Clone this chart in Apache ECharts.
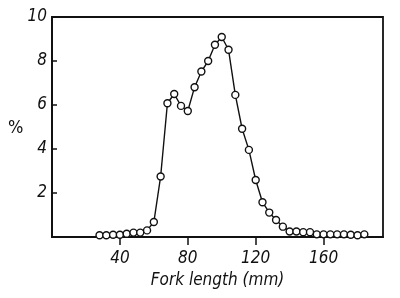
<!DOCTYPE html>
<html><head><meta charset="utf-8">
<script src="https://cdn.jsdelivr.net/npm/echarts@6/dist/echarts.min.js"></script>
<style>html,body{margin:0;padding:0;background:#fff}#c{width:400px;height:298px}</style>
</head><body><div id="c"></div>
<script>
const forkLength = [28,32,36,40,44,48,52,56,60,64,68,72,76,80,84,88,92,96,100,104,108,112,116,120,124,128,132,136,140,144,148,152,156,160,164,168,172,176,180,184];
const percent = [0.08,0.08,0.1,0.1,0.15,0.2,0.2,0.3,0.68,2.75,6.08,6.5,5.96,5.73,6.81,7.52,8.0,8.74,9.09,8.51,6.46,4.92,3.96,2.59,1.58,1.11,0.77,0.47,0.25,0.25,0.22,0.22,0.12,0.12,0.12,0.12,0.12,0.1,0.08,0.12];
const xTicks = [40,80,120,160];
const yTicks = [2,4,6,8,10];
const xTitle = 'Fork length (mm)';
const yTitle = '%';

const FONT = "'Liberation Sans Narrow','DejaVu Sans Condensed',sans-serif";
const chart = echarts.init(document.getElementById('c'), null, {renderer:'canvas'});
chart.setOption({
  animation:false,
  backgroundColor:'#fff',
  grid:{left:52,right:17,top:17,bottom:61,show:true,borderColor:'#111',borderWidth:1.8,backgroundColor:'transparent'},
  xAxis:{type:'value',min:0,max:195,
    axisLine:{show:true,lineStyle:{color:'#111',width:2}},
    axisTick:{show:true,inside:false,length:8,customValues:xTicks,lineStyle:{color:'#111',width:1.5}},
    axisLabel:{customValues:xTicks,color:'#111',fontSize:17,fontStyle:'italic',fontFamily:FONT,margin:13},
    splitLine:{show:false},
    name:xTitle,nameLocation:'middle',nameGap:35,
    nameTextStyle:{color:'#111',fontSize:17,fontStyle:'italic',fontFamily:FONT}
  },
  yAxis:{type:'value',min:0,max:10,
    axisLine:{show:true,lineStyle:{color:'#111',width:2}},
    axisTick:{show:true,inside:true,length:5,customValues:yTicks,lineStyle:{color:'#111',width:1.5}},
    axisLabel:{customValues:yTicks,color:'#111',fontSize:17,fontStyle:'italic',fontFamily:FONT,margin:5},
    splitLine:{show:false}
  },
  graphic:[{type:'text',left:8,top:119,style:{text:yTitle,fontSize:18,fontFamily:FONT,fill:'#111'}}],
  series:[{type:'line',data:forkLength.map((x,i)=>[x,percent[i]]),
    symbol:'circle',symbolSize:7,showAllSymbol:true,
    lineStyle:{color:'#111',width:1.4},
    itemStyle:{color:'#fff',borderColor:'#111',borderWidth:1.4},
    z:5}]
});
</script></body></html>
